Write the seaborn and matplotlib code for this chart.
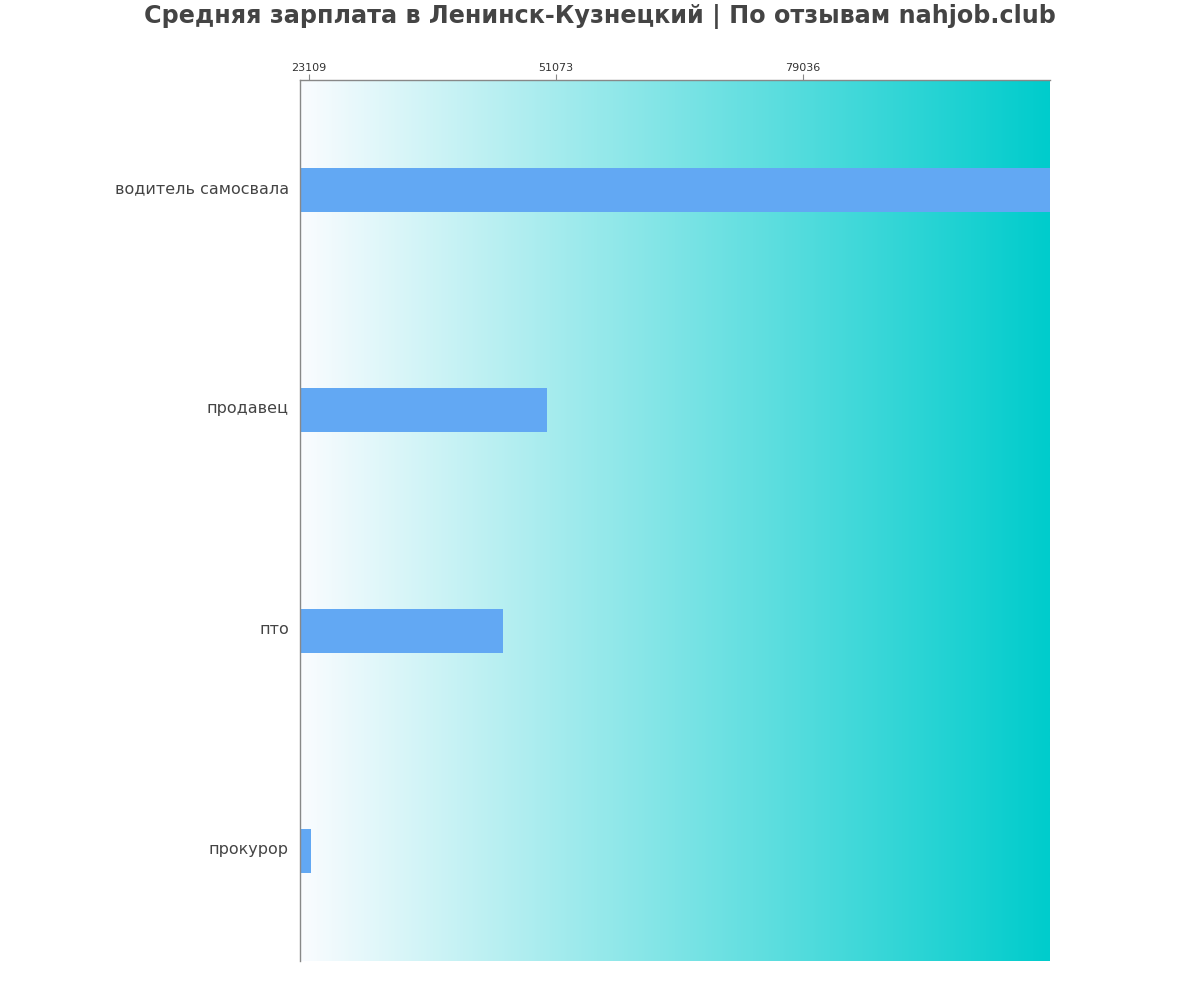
import numpy as np
import pandas as pd
import seaborn as sns
import matplotlib
matplotlib.use("Agg")
import matplotlib.pyplot as plt
import matplotlib.transforms as mtransforms
from matplotlib.colors import LinearSegmentedColormap

# data
professions = ["водитель самосвала", "продавец", "пто", "прокурор"]
salaries = [107000, 50050, 45070, 23300]
tick_values = [23109, 51073, 79036]

df = pd.DataFrame({"profession": professions, "salary": salaries})

sns.set_style("white")
plt.rcParams["font.family"] = ["DejaVu Sans"]

fig = plt.figure(figsize=(12, 10), dpi=100)
ax = fig.add_axes([0.25, 0.039, 0.625, 0.881])

x_lo, x_hi = 22090, 107000
# gradient background
grad = np.linspace(0, 1, 256).reshape(1, -1)
cmap = LinearSegmentedColormap.from_list("bg", ["#fafcff", "#00cccc"])
ax.imshow(grad, aspect="auto", cmap=cmap, extent=[x_lo, x_hi, 3.5, -0.5], zorder=0)

sns.barplot(data=df, x="salary", y="profession", orient="h", color="#62a8f3",
            width=0.2, saturation=1, linewidth=0, ax=ax, zorder=2)

ax.set_xlim(x_lo, x_hi)
ax.set_ylim(3.5, -0.5)
ax.xaxis.tick_top()
ax.set_xticks(tick_values)
ax.set_xticklabels([str(v) for v in tick_values], fontsize=8, color="#333333")
ax.tick_params(axis="x", length=4, color="#888888", pad=1)
ax.tick_params(axis="y", length=0, labelsize=11.5, labelcolor="#444444", pad=8)
# labels sit a little above the bar centre in the reference
offset = mtransforms.ScaledTranslation(0, 3 / 100, fig.dpi_scale_trans)
for lbl in ax.get_yticklabels():
    lbl.set_transform(lbl.get_transform() + offset)
ax.set_xlabel("")
ax.set_ylabel("")
for s in ["right", "bottom"]:
    ax.spines[s].set_visible(False)
for s in ["top", "left"]:
    ax.spines[s].set_color("#888888")
    ax.spines[s].set_linewidth(1)

fig.suptitle("Средняя зарплата в Ленинск-Кузнецкий | По отзывам nahjob.club",
             x=0.5, y=0.996, fontsize=17.2, fontweight="bold", color="#444444")

fig.savefig("out.png", dpi=100)
